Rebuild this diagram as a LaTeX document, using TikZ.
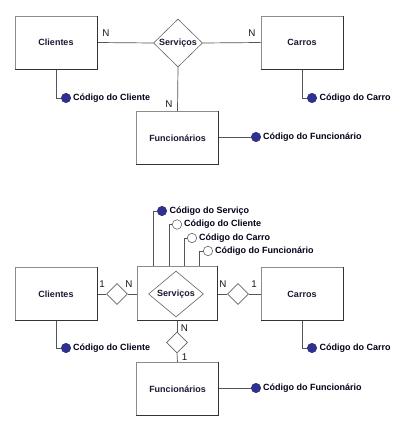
\documentclass[tikz,border=0pt]{standalone}
\usepackage{fontspec}
\setmainfont{Liberation Sans}
\usetikzlibrary{shapes.geometric,calc}
\definecolor{attrblue}{RGB}{46,49,146}
\definecolor{entcol}{RGB}{25,25,50}
\definecolor{linecol}{RGB}{85,85,85}
\tikzset{
  ent/.style={draw=black!45, line width=0.6pt, fill=white, inner sep=0pt,
    minimum width=82pt, minimum height=53pt,
    font=\fontsize{9}{10}\selectfont\bfseries, text=entcol},
  rel/.style={diamond, draw=black!60, line width=0.6pt, fill=white, inner sep=0pt,
    font=\fontsize{9}{10}\selectfont\bfseries, text=entcol},
  smalldia/.style={diamond, draw=black!60, line width=0.6pt, fill=white, inner sep=0pt,
    minimum width=21pt, minimum height=21pt},
  conn/.style={draw=linecol, line width=0.7pt},
  keyattr/.style={circle, fill=attrblue, draw=attrblue!70!black, line width=0.4pt,
    minimum size=9.5pt, inner sep=0pt},
  fkattr/.style={circle, fill=white, draw=black!60, line width=0.6pt,
    minimum size=9.5pt, inner sep=0pt},
  attrtext/.style={anchor=west, inner sep=0pt, font=\fontsize{9}{10}\selectfont\bfseries, text=black!90!blue},
  card/.style={inner sep=0pt, font=\fontsize{9.8}{11}\selectfont, text=black!90},
}
\begin{document}
\begin{tikzpicture}[x=1pt,y=-1pt]
\useasboundingbox[fill=white] (0,0) rectangle (406,425);

% ---------------- top diagram ----------------
\node[ent] (cli) at (56,42.5) {Clientes};
\node[ent] (car) at (302,42.5) {Carros};
\node[ent] (fun) at (177.5,138) {Funcionários};
\node[rel, minimum width=49pt, minimum height=48pt] (srv) at (178,43) {Serviços};

\draw[conn] (cli.east) -- (srv.west);
\draw[conn] (srv.east) -- (car.west);
\draw[conn] (srv.south) -- (fun.north);

\node[card] (n1) at (106,33) {N};
\node[card] (n2) at (252,33) {N};
\node[card] (n3) at (169,104) {N};

\node[keyattr] (ca1) at (66,98) {};
\node[attrtext] (ta1) at (73,98) {Código do Cliente};
\node[keyattr] (ca2) at (312,98) {};
\node[attrtext] (ta2) at (319.5,98) {Código do Carro};
\node[keyattr] (ca3) at (256,137) {};
\node[attrtext] (ta3) at (263,137) {Código do Funcionário};

\draw[conn] (ca1.west) -| (cli.south);
\draw[conn] (ca2.west) -| (car.south);
\draw[conn] (fun.east |- ca3) -- (ca3.west);

% ---------------- bottom diagram ----------------
\node[ent] (cli2) at (56,294) {Clientes};
\node[ent] (car2) at (302,294) {Carros};
\node[ent, minimum width=80pt, minimum height=54pt] (sbox) at (177,293) {};
\node[rel, minimum width=55pt, minimum height=32pt] (srv2) at (176,294) {Serviços};
\node[ent] (fun2) at (177.5,389) {Funcionários};

\node[smalldia] (d1) at (117,294) {};
\node[smalldia] (d2) at (238,294) {};
\node[smalldia] (d3) at (177,342.5) {};

\draw[conn] (cli2.east) -- (d1.west);
\draw[conn] (d1.east) -- (sbox.west |- d1);
\draw[conn] (sbox.east |- d2) -- (d2.west);
\draw[conn] (d2.east) -- (car2.west);
\draw[conn] (sbox.south) -- (d3.north);
\draw[conn] (d3.south) -- (fun2.north);

\node[card] (m1) at (102,284) {1};
\node[card] (m2) at (129,284) {N};
\node[card] (m3) at (223,284) {N};
\node[card] (m4) at (254,284) {1};
\node[card] (m5) at (184.5,328) {N};
\node[card] (m6) at (184.5,357) {1};

\node[keyattr] (cb1) at (66,348) {};
\node[attrtext] (tb1) at (73,348) {Código do Cliente};
\node[keyattr] (cb2) at (312,348) {};
\node[attrtext] (tb2) at (319.5,348) {Código do Carro};
\node[keyattr] (cb3) at (256,388) {};
\node[attrtext] (tb3) at (263,388) {Código do Funcionário};

\draw[conn] (cb1.west) -| (cli2.south);
\draw[conn] (cb2.west) -| (car2.south);
\draw[conn] (fun2.east |- cb3) -- (cb3.west);

% attributes of Serviços
\coordinate (s1) at (153,266);
\coordinate (s2) at (169,266);
\coordinate (s3) at (184,266);
\coordinate (s4) at (199,266);
\node[keyattr] (sa1) at (162,211) {};
\node[fkattr] (sa2) at (177,224.5) {};
\node[fkattr] (sa3) at (192,238) {};
\node[fkattr] (sa4) at (208,251) {};
\node[attrtext] (st1) at (169.5,211) {Código do Serviço};
\node[attrtext] (st2) at (184,224.5) {Código do Cliente};
\node[attrtext] (st3) at (199,238) {Código do Carro};
\node[attrtext] (st4) at (215,251) {Código do Funcionário};
\draw[conn] (s1) |- (sa1.west);
\draw[conn] (s2) |- (sa2.west);
\draw[conn] (s3) |- (sa3.west);
\draw[conn] (s4) |- (sa4.west);

% darker shadow edges of entity boxes
\foreach \n in {cli,car,fun,cli2,car2,sbox,fun2}{
  \draw[line width=1.3pt, black!80] (\n.north east) -- (\n.south east) -- (\n.south west);
}
\end{tikzpicture}
\end{document}
